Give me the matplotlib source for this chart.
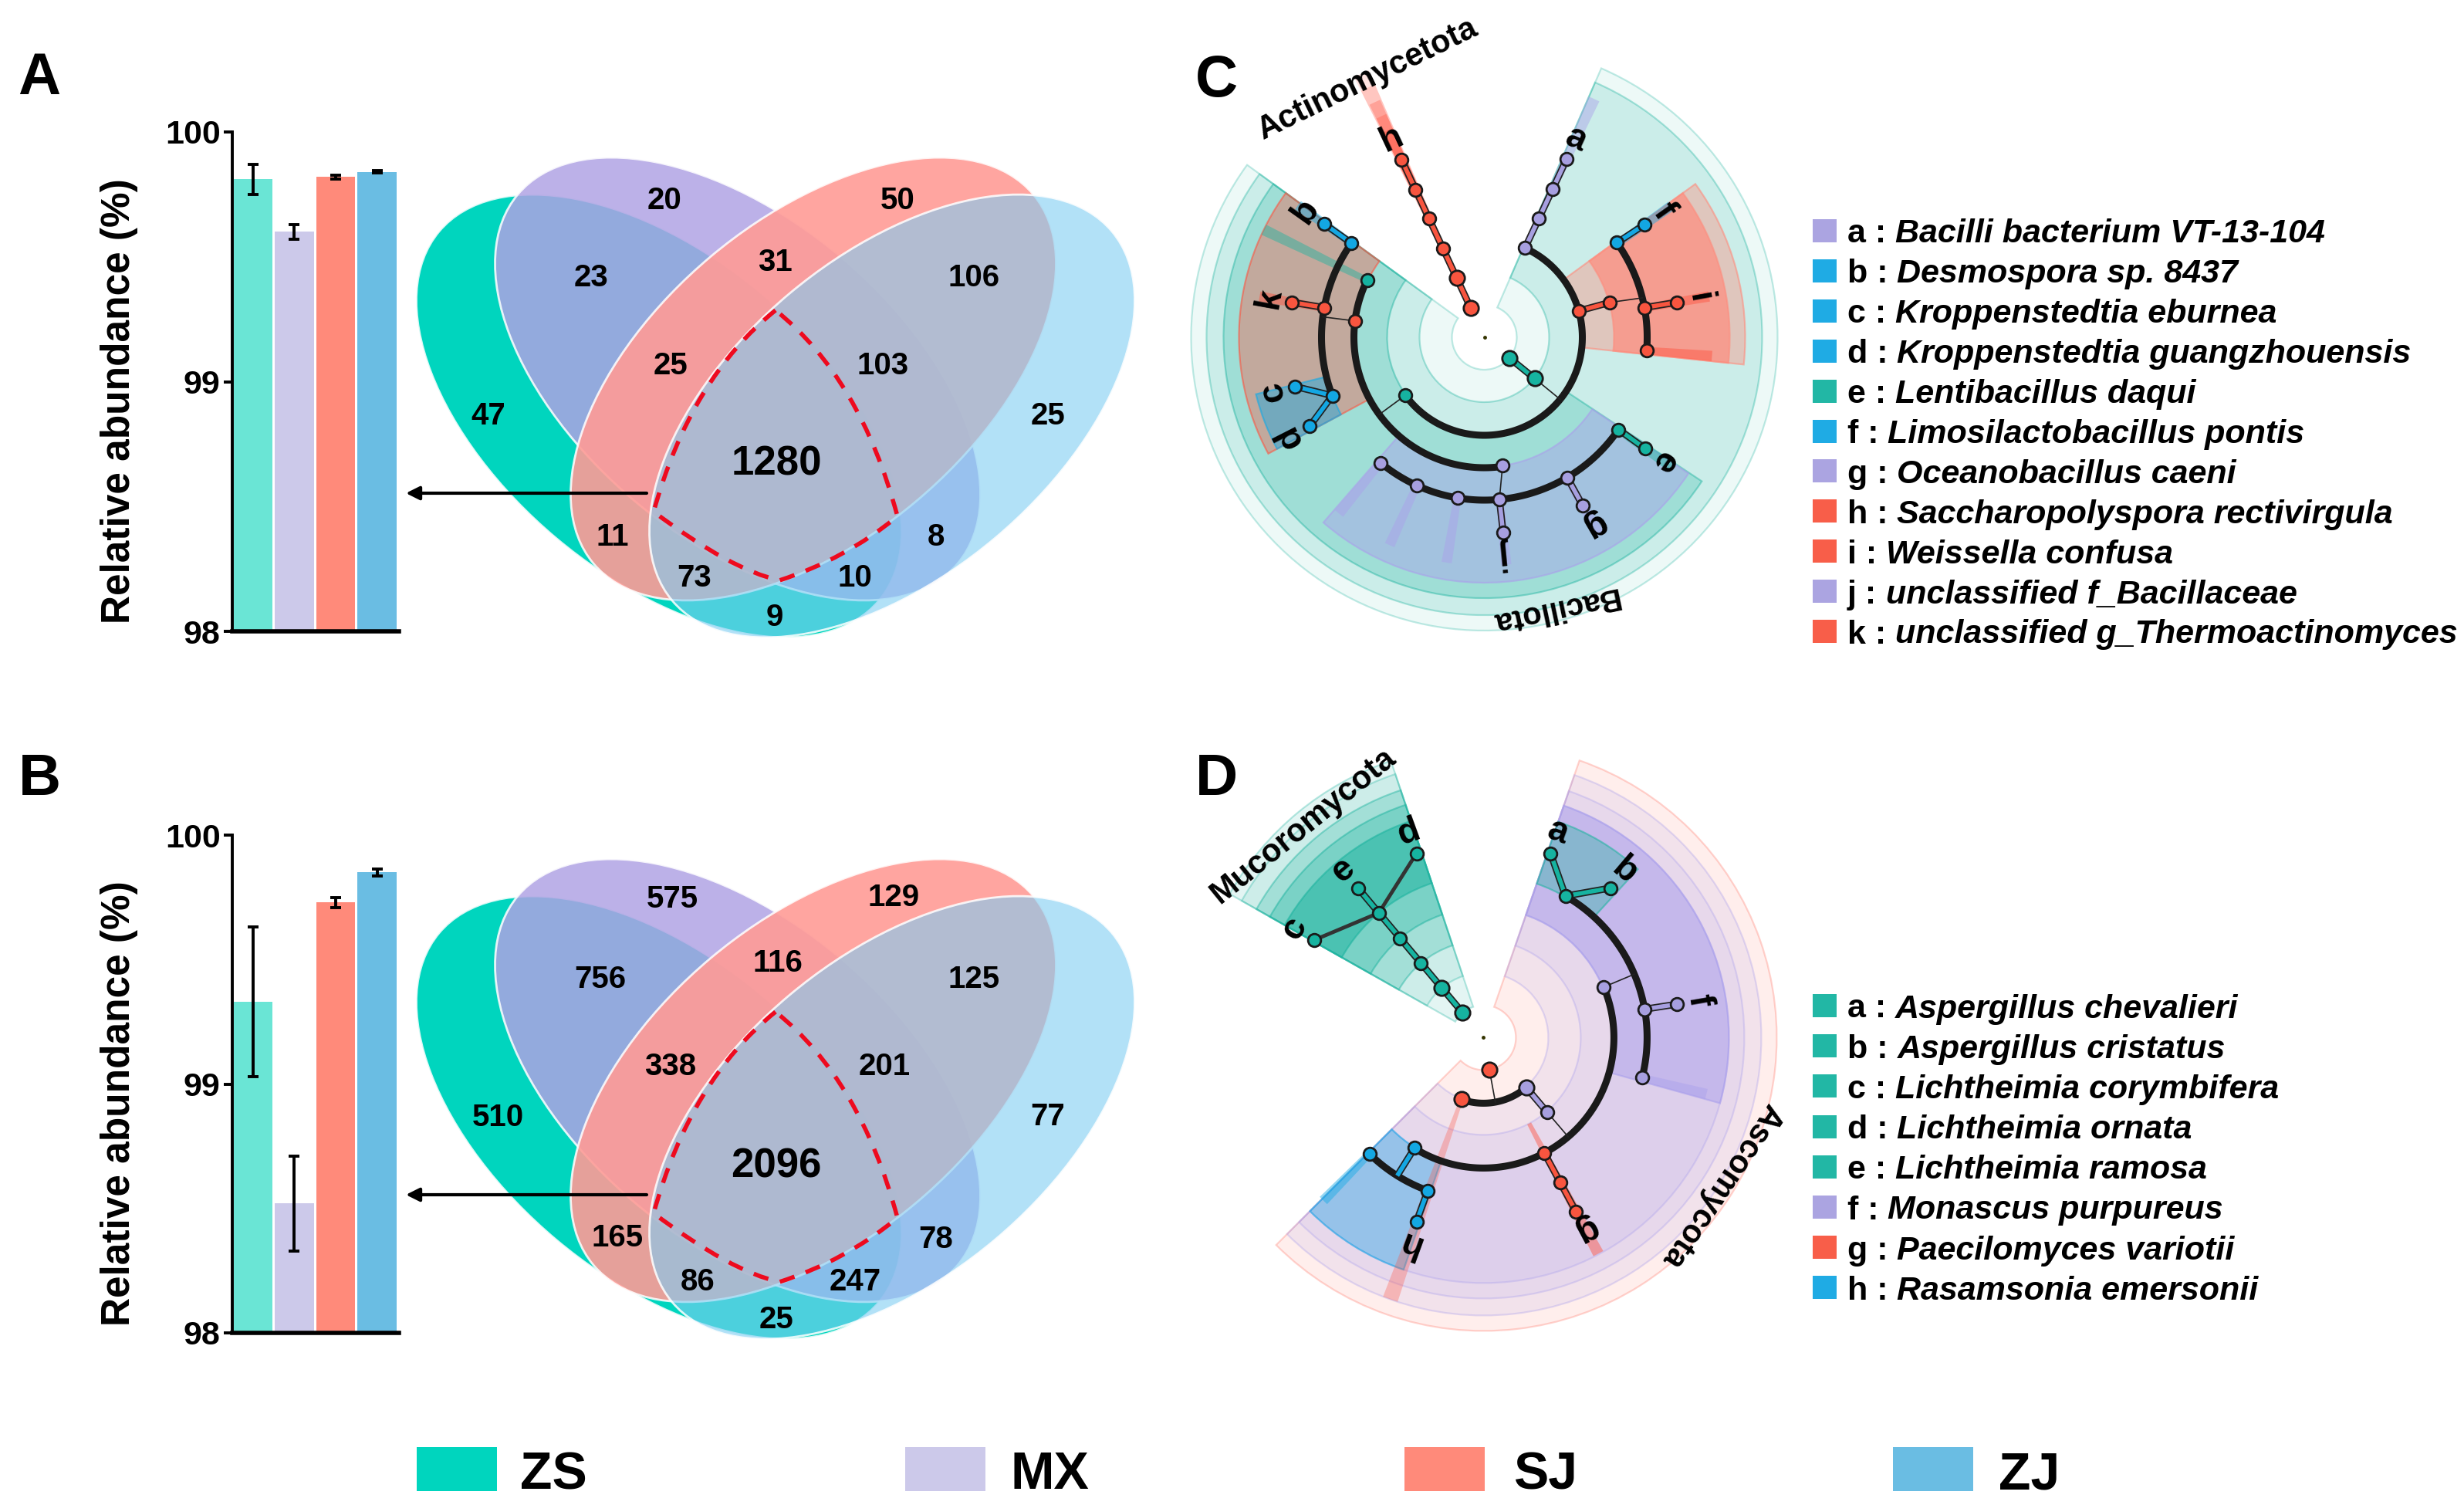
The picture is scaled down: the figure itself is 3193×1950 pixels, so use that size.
import numpy as np
import matplotlib
matplotlib.use("Agg")
import matplotlib.pyplot as plt
from matplotlib.patches import Ellipse, PathPatch, Rectangle, Wedge
from matplotlib.path import Path

plt.rcParams['font.family'] = ['Liberation Sans', 'DejaVu Sans']
plt.rcParams['font.weight'] = 'bold'

W, H = 3193, 1950

# group colours
ZS_C, MX_C, SJ_C, ZJ_C = '#00D5BE', '#B0A2E4', '#FF9B96', '#80CDF3'
BAR_COLORS = ['#6AE5D5', '#CCC9EA', '#FF8A7A', '#6ABDE3']
GROUPS = ['ZS', 'MX', 'SJ', 'ZJ']
GROUP_COLORS = ['#00D5BE', '#CCC9EA', '#FF8A7A', '#6ABDE3']
NODE = {'r': '#F8553F', 'b': '#13A7E3', 't': '#16B3A0', 'l': '#A79FE0'}
SHADE = {'r': '#FF503C', 'q': '#FF8C7D', 'b': '#14AAE6', 't': '#1EB4A0', 'l': '#AAA0EB', 'p': '#FF7869'}

# bar values
BAR_A = [99.81, 99.60, 99.82, 99.84]
ERR_A = [0.06, 0.03, 0.008, 0.005]
BAR_B = [99.33, 98.52, 99.73, 99.85]
ERR_B = [0.30, 0.19, 0.02, 0.015]

# venn region counts
VENN_A = [47, 20, 50, 25, 23, 31, 106, 25, 103, 1280, 11, 73, 9, 10, 8]
VENN_B = [510, 575, 129, 77, 756, 116, 125, 338, 201, 2096, 165, 86, 25, 247, 78]
POS_A = [(633, 539), (861, 260), (1163, 260), (1358, 539), (766, 360), (1004, 340), (1262, 360),
         (869, 474), (1144, 474), (1006, 601), (794, 696), (900, 749), (1004, 800), (1108, 749), (1213, 696)]
POS_B = [(645, 539), (871, 256), (1158, 254), (1358, 538), (778, 360), (1008, 339), (1262, 360),
         (869, 473), (1146, 473), (1006, 602), (800, 695), (904, 752), (1006, 801), (1108, 752), (1213, 697)]

# legends of the two cladograms
C_KEYS = ['a', 'b', 'c', 'd', 'e', 'f', 'g', 'h', 'i', 'j', 'k']
C_NAMES = ['Bacilli bacterium VT-13-104', 'Desmospora sp. 8437', 'Kroppenstedtia eburnea',
           'Kroppenstedtia guangzhouensis', 'Lentibacillus daqui', 'Limosilactobacillus pontis',
           'Oceanobacillus caeni', 'Saccharopolyspora rectivirgula', 'Weissella confusa',
           'unclassified f_Bacillaceae', 'unclassified g_Thermoactinomyces']
C_COLS = ['l', 'b', 'b', 'b', 't', 'b', 'l', 'r', 'r', 'l', 'r']
D_KEYS = ['a', 'b', 'c', 'd', 'e', 'f', 'g', 'h']
D_NAMES = ['Aspergillus chevalieri', 'Aspergillus cristatus', 'Lichtheimia corymbifera', 'Lichtheimia ornata',
           'Lichtheimia ramosa', 'Monascus purpureus', 'Paecilomyces variotii', 'Rasamsonia emersonii']
D_COLS = ['t', 't', 't', 't', 't', 'l', 'r', 'b']

# cladogram C, everything polar: radius, angle in degrees
C_WEDGES = [(42, 380, -216, 66.5, 't', .08), (84, 360, -216, 66.5, 't', .16), (126, 338, -216, -33.5, 't', .25),
            (126, 338, -6, 36, 'q', .4), (168, 318, -6, 36, 'q', .7),
            (168, 318, -216, -151.7, 'r', .37), (168, 318, -131, -33.7, 'l', .45),
            (211, 305, -166, -151.7, 'b', .45)]
C_BARS = [(170, 318, 154, 't', .45), (127, 340, 65.3, 'l', .45), (211, 296, 35.1, 'b', .45), (211, 296, -4.7, 'r', .45),
          (211, 296, 10.3, 'r', .45), (211, 296, 144.7, 'b', .45), (211, 296, 169.7, 'r', .45),
          (211, 296, -129.5, 'l', .45), (211, 296, -114.5, 'l', .45), (211, 296, -99.5, 'l', .45),
          (211, 296, -84.5, 'l', .45), (211, 296, -59.7, 'l', .45), (211, 297, -34.7, 't', .45),
          (42, 377, 115, 'r', .15), (84, 357, 115, 'r', .2), (127, 336, 115, 'r', .3), (169, 316, 115, 'r', .3),
          (211, 296, 115, 'r', .4)]
C_ARCS = [(127, -143.7, 65.6), (169, 153.9, 278), (211, -129.5, -34.5), (211, 144.7, 201), (211, -4.7, 35.5)]
C_LINKS = [(42, 115, 254, 115, 'r'), (127, 65.5, 254, 65.2, 'l'), (42, -39.5, 84, -39.3, 't'),
           (127, 15.6, 169, 15.5, 'r'), (211, 35.5, 254, 35.1, 'b'), (211, 10.5, 254, 10.3, 'r'),
           (211, -59.4, 253, -59.7, 'l'), (211, -84.7, 254, -84.5, 'l'), (211, -34.5, 253, -34.7, 't'),
           (211, 144.7, 254, 144.7, 'b'), (211, 169.5, 254, 169.7, 'r'), (211, 201, 254, 194.5, 'b'),
           (211, 201, 254, 207, 'b')]
C_THIN = [(84, -39.3, 127, -39.3), (127, -143.7, 169, -143.7), (169, -82, 211, -84.7),
          (169, 172.8, 211, 172.8), (169, 15.5, 211, 14)]
C_NODES = [(42.4, 115, 'r'), (84.8, 115, 'r'), (127, 115, 'r'), (169.6, 115, 'r'), (211, 115, 'r'), (254, 115, 'r'),
           (127, 65.6, 'l'), (169, 65.4, 'l'), (211, 65.3, 'l'), (254, 65.2, 'l'),
           (42, -39.5, 't'), (84, -39.3, 't'), (127, 15.6, 'r'), (127, -143.7, 't'),
           (169, 15.5, 'r'), (211, 35.5, 'b'), (211, 10.5, 'r'), (211, -4.7, 'r'), (254, 35.1, 'b'), (254, 10.3, 'r'),
           (169, 153.9, 't'), (169, 172.8, 'r'), (168, -82, 'l'),
           (211, 144.7, 'b'), (211, 169.5, 'r'), (211, 201, 'b'), (254, 144.7, 'b'), (254, 169.7, 'r'),
           (254, 194.5, 'b'), (254, 207, 'b'),
           (211, -129.5, 'l'), (211, -114.5, 'l'), (211, -99.5, 'l'), (211, -84.7, 'l'), (211, -59.4, 'l'),
           (211, -34.5, 't'), (253, -59.7, 'l'), (254, -84.5, 'l'), (253, -34.7, 't')]
C_TIPS = [('a', 65.2), ('b', 144.7), ('c', 194.5), ('d', 207), ('e', -34.7), ('f', 35.1),
          ('g', -59.7), ('h', 115), ('i', 10.3), ('j', -84.5), ('k', 169.7)]

# cladogram D
D_WEDGES = [(42, 380, -135, 70.9, 'p', .12), (84, 360, -135, 70.9, 'l', .15), (126, 338, -135, 70.9, 'l', .15),
            (168, 318, -135, 70.9, 'l', .15), (168, 318, -15.5, 70.9, 'l', .47), (211, 296, 47.5, 70.9, 't', .36),
            (168, 318, -135, -109, 'b', .35),
            (42, 378, 108.5, 150.5, 't', .12), (84, 360, 108.5, 150.5, 't', .11), (126, 338, 108.5, 150.5, 't', .24),
            (168, 318, 108.5, 150.5, 't', .3), (211, 296, 108.5, 150.5, 't', .5)]
D_BARS = [(84, 360, -109.6, 'r', .3), (126, 317, -62, 'r', .45), (211, 296, -134.5, 'b', .45), (211, 298, -14.2, 'l', .45)]
D_ARCS = [(85, -109.6, -49.4), (169, -122, 22.8), (212, -14.2, 59.9), (211, -134.5, -110)]
D_LINKS = [(85, -49.4, 127.5, -49.5, 'l'), (170, -62.2, 255, -62, 'r'), (212, 59.9, 254, 70, 't'),
           (212, 59.9, 254, 49.7, 't'), (212, 10, 254.7, 9.8, 'l'), (168, -122, 211, -122, 'b'),
           (211, -110, 254, -110, 'b'), (42, 130, 253, 130, 't')]
D_THIN = [(42.5, -79.6, 85, -79.6), (127.5, -49.5, 169, -49.5), (169, 22.8, 212, 22.8)]
D_DARK = [(211, 130, 254, 110), (211, 130, 253, 150)]
D_NODES = [(42, -79.6, 'r'), (85, -109.6, 'r'), (85.4, -49.4, 'l'), (127.5, -49.5, 'l'),
           (168, -122, 'b'), (169.6, -62.2, 'r'), (169, 22.8, 'l'), (212, -62.1, 'r'), (255, -62, 'r'),
           (212, 59.9, 't'), (212, 10, 'l'), (212, -14.2, 'l'), (254, 70, 't'), (254, 49.7, 't'), (254.7, 9.8, 'l'),
           (211, -134.5, 'b'), (211, -110, 'b'), (254, -110, 'b'),
           (42, 130, 't'), (84, 130, 't'), (126.4, 130, 't'), (168, 130, 't'), (211, 130, 't'),
           (254, 110, 't'), (253, 130, 't'), (253, 150, 't')]
D_TIPS = [('a', 70), ('b', 49.7), ('c', 150), ('d', 110), ('e', 130), ('f', 9.8), ('g', -62), ('h', -110)]

fig = plt.figure(figsize=(W / 100, H / 100), dpi=100)
ax = fig.add_axes([0, 0, 1, 1])
ax.set_xlim(0, W)
ax.set_ylim(H, 0)
ax.axis('off')


def draw_bars(y_top, y_bottom, values, errors):
    bar_ax = fig.add_axes([301 / W, 1 - y_bottom / H, 216 / W, (y_bottom - y_top) / H])
    bar_ax.patch.set_alpha(0)
    bar_ax.bar(range(4), values, width=0.94, color=BAR_COLORS, zorder=1)
    bar_ax.errorbar(range(4), values, yerr=errors, fmt='none', ecolor='black', elinewidth=2.8,
                    capsize=5, capthick=2.8, zorder=2)
    bar_ax.set_xlim(-0.5, 3.53)
    bar_ax.set_ylim(98, 100)
    bar_ax.set_xticks([])
    bar_ax.set_yticks([98, 99, 100])
    bar_ax.tick_params(axis='y', length=8, width=2.8, labelsize=31, pad=3)
    for side in ['top', 'right']:
        bar_ax.spines[side].set_visible(False)
    bar_ax.spines['left'].set_linewidth(2.8)
    bar_ax.spines['bottom'].set_linewidth(4)
    ax.text(155, (y_top + y_bottom) / 2 + 25, 'Relative abundance (%)', rotation=90, fontsize=37,
            ha='center', va='center')


def draw_venn(dy, counts, positions):
    layers = [((854, 539), 40, ZS_C, 1.0), ((956, 491), 40, MX_C, .84),
              ((1054, 491), -40, SJ_C, .9), ((1156, 539), -40, ZJ_C, .6)]
    for (cx, cy), angle, col, alpha in layers:
        ax.add_patch(Ellipse((cx, cy + dy), 744, 414, angle=angle, facecolor=matplotlib.colors.to_rgba(col, alpha),
                             edgecolor=(1, 1, 1, .85), linewidth=2, zorder=1))
    for n, (x, y) in zip(counts, positions):
        ax.text(x, y + dy, str(n), fontsize=38 if n in (1280, 2096) else 29, ha='center', va='center', zorder=4)
    verts = [(1005, 402), (895, 490), (847, 663), (947.5, 738.5), (1010, 752),
             (1095.5, 724.5), (1163, 669), (1115, 490), (1005, 402)]
    codes = [Path.MOVETO] + [Path.CURVE3] * 8
    ax.add_patch(PathPatch(Path([(x, y + dy) for x, y in verts], codes), fill=False, edgecolor='#EE0A1E',
                           linewidth=4, linestyle=(0, (3.6, 2.8)), zorder=3))
    ax.annotate('', xy=(526, 639 + dy), xytext=(838, 639 + dy),
                arrowprops=dict(arrowstyle='-|>', color='black', lw=3, mutation_scale=26, shrinkA=0, shrinkB=0),
                zorder=3)


def pol(cx, cy, r, deg):
    return cx + r * np.cos(np.radians(deg)), cy - r * np.sin(np.radians(deg))


def draw_clade(cx, cy, wedges, bars, arcs, links, thin, nodes, tips, dark=()):
    for r0, r1, lo, hi, col, alpha in wedges:
        face = matplotlib.colors.to_rgba(SHADE[col], alpha)
        edge = matplotlib.colors.to_rgba(SHADE[col], min(alpha + .2, .6))
        ax.add_patch(Wedge((cx, cy), r1, -hi, -lo, width=r1 - r0, facecolor=face, edgecolor=edge,
                           linewidth=1.6, zorder=1))
    for r0, r1, deg, col, alpha in bars:
        half = 1.3 if r1 < 345 else 1.6
        ax.add_patch(Wedge((cx, cy), r1, -deg - half, -deg + half, width=r1 - r0,
                           facecolor=matplotlib.colors.to_rgba(SHADE[col], alpha), edgecolor='none', zorder=2))
    for r, lo, hi in arcs:
        t = np.linspace(lo, hi, 120)
        x, y = pol(cx, cy, r, t)
        ax.plot(x, y, color='#1a1a1a', lw=6.5, solid_capstyle='round', zorder=3)
    for r0, a0, r1, a1 in thin:
        x0, y0 = pol(cx, cy, r0, a0)
        x1, y1 = pol(cx, cy, r1, a1)
        ax.plot([x0, x1], [y0, y1], color='#222222', lw=1.2, zorder=3)
    for r0, a0, r1, a1 in dark:
        x0, y0 = pol(cx, cy, r0, a0)
        x1, y1 = pol(cx, cy, r1, a1)
        ax.plot([x0, x1], [y0, y1], color='#333333', lw=3.5, zorder=3)
    for r0, a0, r1, a1, col in links:
        x0, y0 = pol(cx, cy, r0, a0)
        x1, y1 = pol(cx, cy, r1, a1)
        ax.plot([x0, x1], [y0, y1], color='#222222', lw=6.5, zorder=4, solid_capstyle='butt')
        ax.plot([x0, x1], [y0, y1], color=NODE[col], lw=4, zorder=4, solid_capstyle='butt')
    for r, deg, col in nodes:
        x, y = pol(cx, cy, r, deg)
        ax.plot(x, y, 'o', ms=14 if r < 90 else 12, mfc=NODE[col], mec='#1a1a1a', mew=2, zorder=5)
    for key, deg in tips:
        x, y = pol(cx, cy, 283, deg)
        ax.text(x, y, key, rotation=deg - 90, rotation_mode='anchor', fontsize=33, ha='center', va='center', zorder=6)
    ax.plot(cx, cy, 'o', ms=2.5, color='#333300', zorder=5)


def draw_key(y_rows, keys, names, cols):
    renderer = fig.canvas.get_renderer()
    for y, key, name, col in zip(y_rows, keys, names, cols):
        ax.add_patch(Rectangle((2349, y - 15), 31, 30, facecolor=NODE[col], edgecolor='none', alpha=.95))
        lab = ax.text(2394, y, key + ' :', fontsize=31, ha='left', va='center_baseline')
        x1 = lab.get_window_extent(renderer).x1
        ax.text(x1 + 12, y, name, fontsize=31, style='italic', ha='left', va='center_baseline')


for letter, x, y in [('A', 51, 102), ('B', 51, 1011), ('C', 1576, 106), ('D', 1576, 1011)]:
    ax.text(x, y, letter, fontsize=55, ha='center', va='center')

draw_bars(171, 818, BAR_A, ERR_A)
draw_bars(1082, 1727, BAR_B, ERR_B)
draw_venn(0, VENN_A, POS_A)
draw_venn(909, VENN_B, POS_B)

draw_clade(1923.5, 437, C_WEDGES, C_BARS, C_ARCS, C_LINKS, C_THIN, C_NODES, C_TIPS)
ax.text(1773, 103, 'Actinomycetota', rotation=26, fontsize=30, ha='center', va='center', zorder=7)
ax.text(2015, 789, 'Bacillota', rotation=192, fontsize=29, ha='center', va='center', zorder=7)

draw_clade(1922.4, 1344.4, D_WEDGES, D_BARS, D_ARCS, D_LINKS, D_THIN, D_NODES, D_TIPS, dark=D_DARK)
ax.text(1689, 1070, 'Mucoromycota', rotation=39, fontsize=30, ha='center', va='center', zorder=7)
ax.text(2230, 1537, 'Ascomycota', rotation=236, fontsize=30, ha='center', va='center', zorder=7)

draw_key([299 + 51.9 * i for i in range(11)], C_KEYS, C_NAMES, C_COLS)
draw_key([1303 + 52.2 * i for i in range(8)], D_KEYS, D_NAMES, D_COLS)

for name, col, px, tx in zip(GROUPS, GROUP_COLORS, [540, 1173, 1820, 2453], [674, 1310, 1961, 2590]):
    ax.add_patch(Rectangle((px, 1875), 104, 57, facecolor=col, edgecolor='none'))
    ax.text(tx, 1911, name, fontsize=49, ha='left', va='center')

fig.savefig('out.png', dpi=100)
